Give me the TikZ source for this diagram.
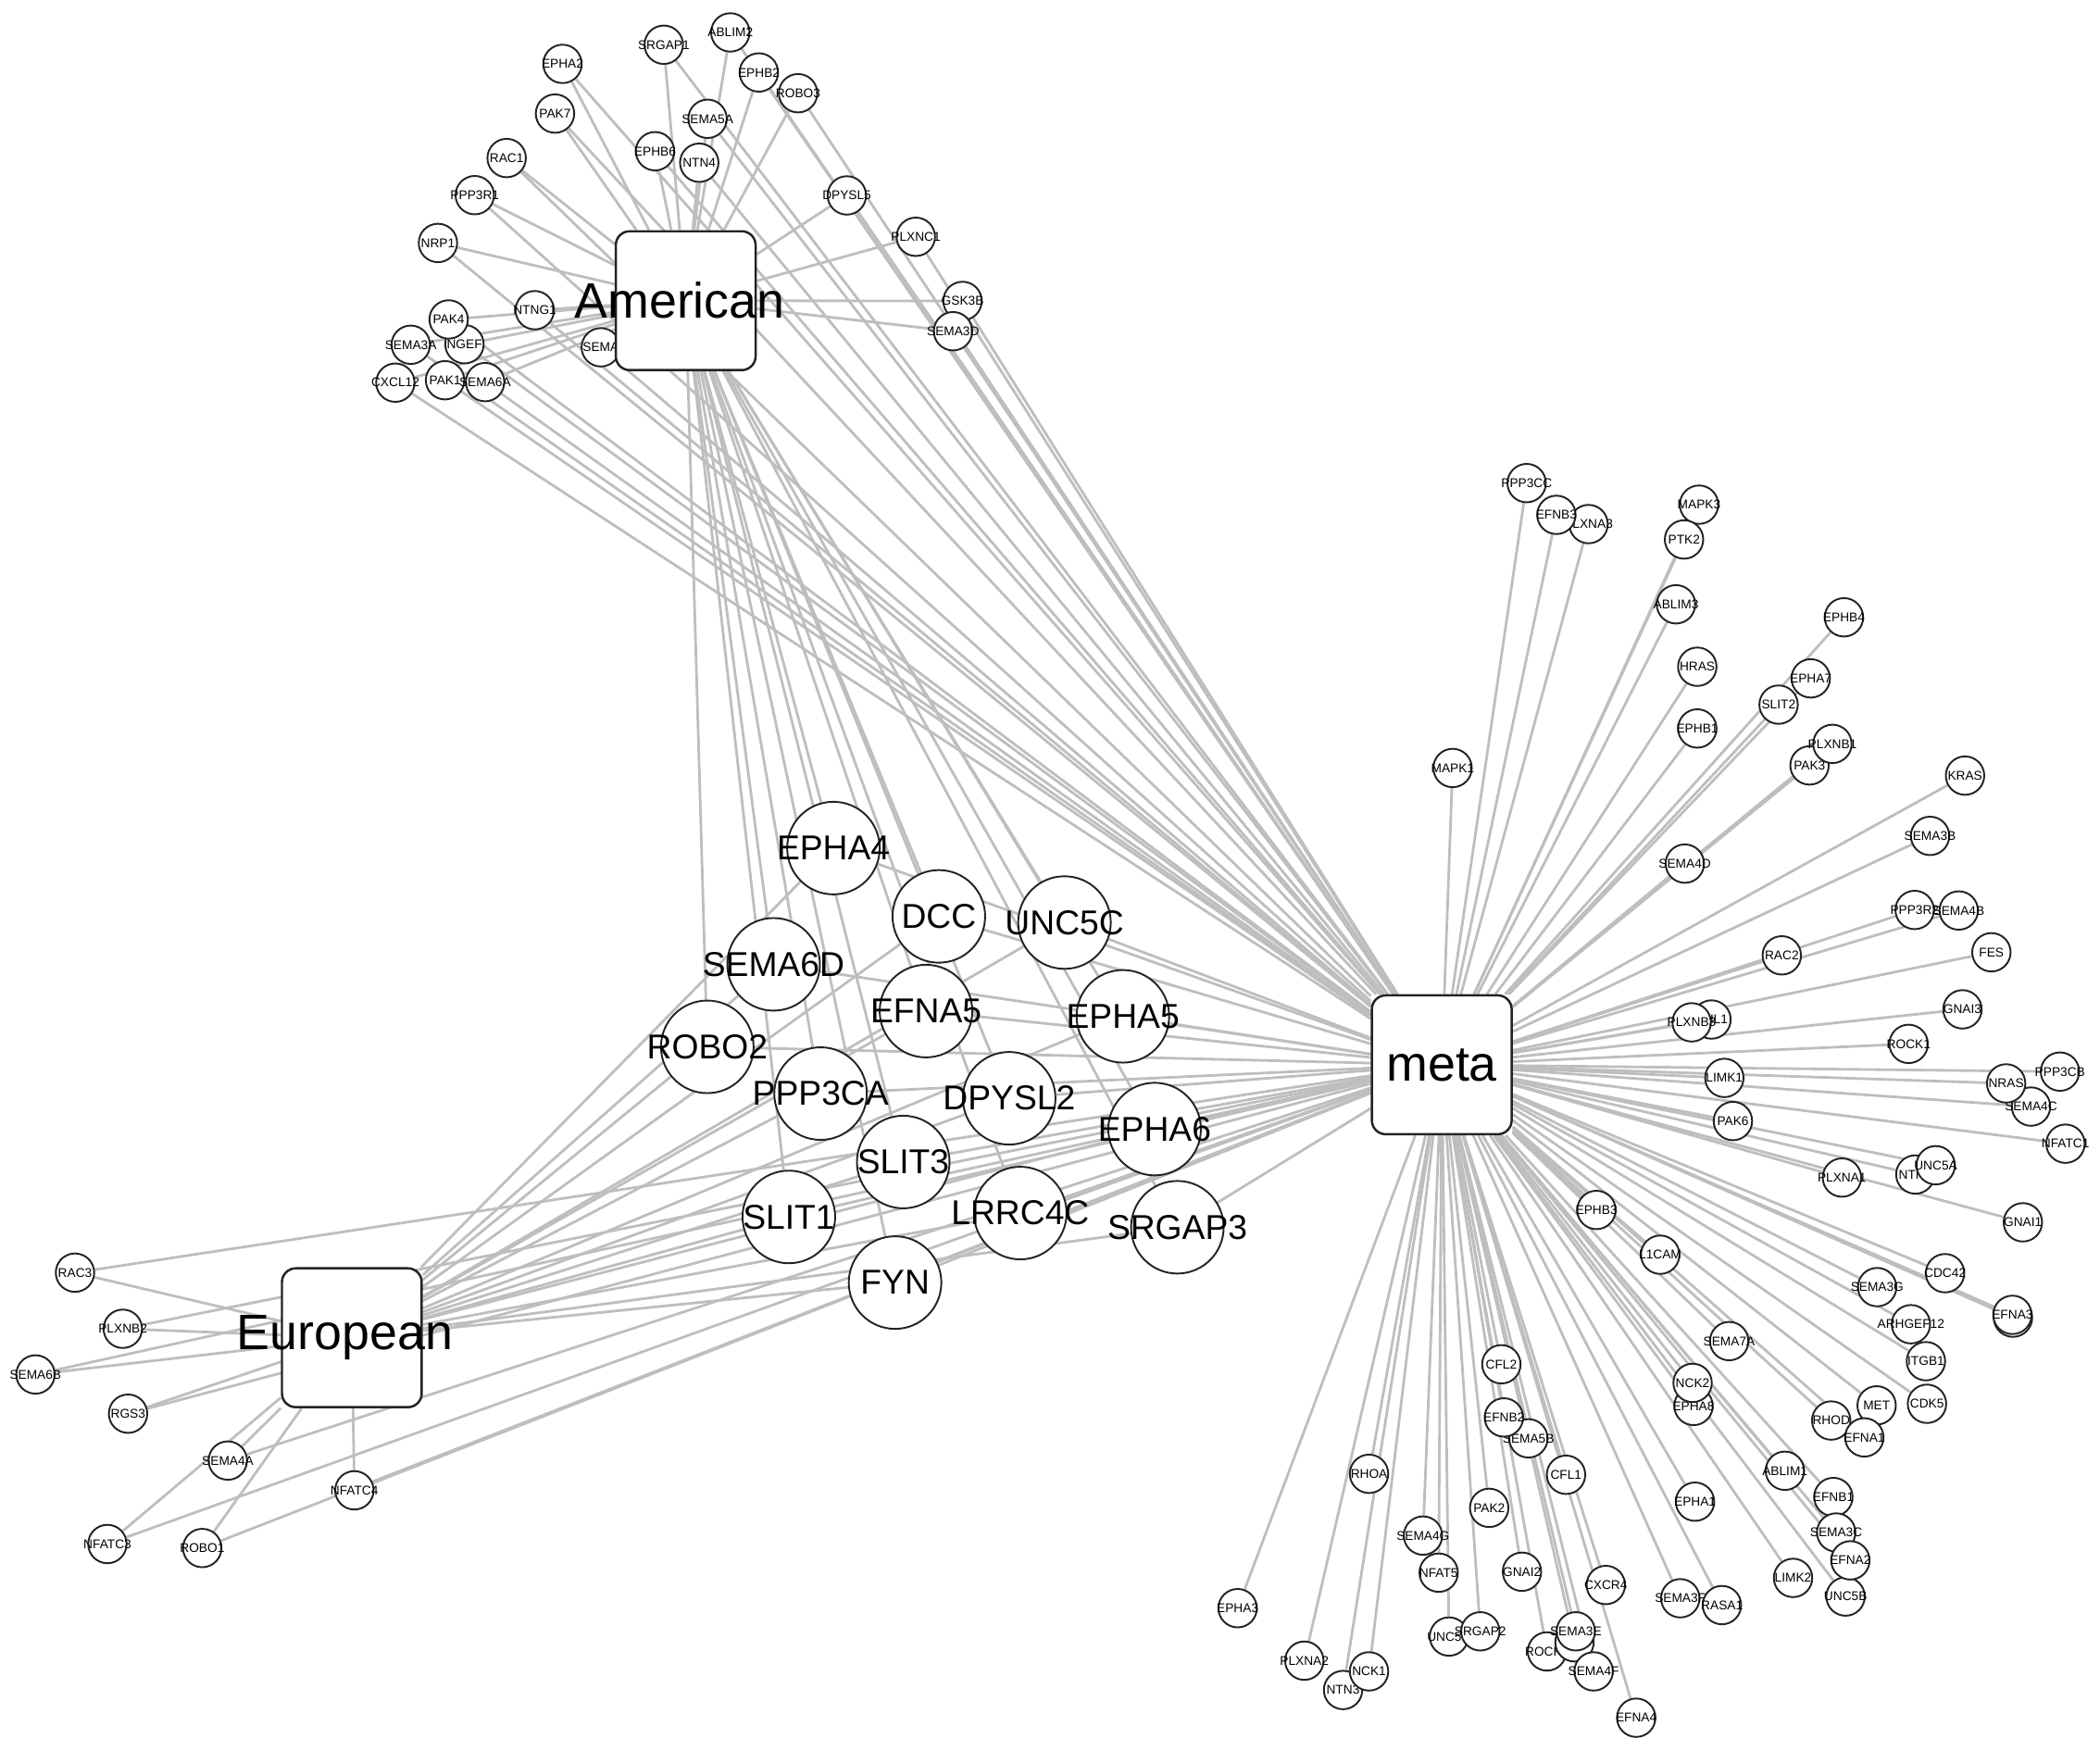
\documentclass[tikz,border=0pt]{standalone}
\usepackage{fontspec}
\setmainfont{Liberation Sans}
\definecolor{edgegray}{RGB}{190,190,190}
\definecolor{nodeline}{RGB}{35,35,35}
\newcommand{\zw}[1]{\makebox[0pt]{#1}}
\pgfdeclarelayer{edgelayer}
\pgfsetlayers{edgelayer,main}
\tikzset{
  sn/.style={circle, draw=nodeline, fill=white, line width=0.55pt, minimum size=0.415cm, inner sep=0pt, font=\fontsize{3.9}{4}\selectfont},
  bn/.style={circle, draw=nodeline, fill=white, line width=0.55pt, minimum size=1.0cm, inner sep=0pt, font=\fontsize{10.6}{11}\selectfont},
  hub/.style={rectangle, rounded corners=0.15cm, draw=nodeline, fill=white, line width=0.7pt, minimum width=1.51cm, minimum height=1.5cm, inner sep=0pt, font=\fontsize{15.3}{16}\selectfont},
  ed/.style={draw=edgegray, line width=0.8pt}
}
\begin{document}
\begin{tikzpicture}[x=0.014464cm, y=-0.014464cm]
\useasboundingbox (0,0) rectangle (1568,1307);
% ---------- American cluster ----------
\node[sn] (SRGAP1) at (495.6,33.4) {\zw{SRGAP1}};
\node[sn] (ABLIM2) at (545.3,24.2) {\zw{ABLIM2}};
\node[sn] (EPHA2) at (420,47.7) {\zw{EPHA2}};
\node[sn] (EPHB2) at (566.6,54.1) {\zw{EPHB2}};
\node[sn] (ROBO3) at (595.9,69.6) {\zw{ROBO3}};
\node[sn] (PAK7) at (414.4,84.8) {\zw{PAK7}};
\node[sn] (SEMA5A) at (528.3,88.7) {\zw{SEMA5A}};
\node[sn] (RAC1) at (378.3,118) {\zw{RAC1}};
\node[sn] (EPHB6) at (489.1,112.9) {\zw{EPHB6}};
\node[sn] (NTN4) at (522.1,121.5) {\zw{NTN4}};
\node[sn] (PPP3R1) at (354.5,145.7) {\zw{PPP3R1}};
\node[sn] (DPYSL5) at (632.3,145.9) {\zw{DPYSL5}};
\node[sn] (NRP1) at (327,181.4) {\zw{NRP1}};
\node[sn] (PLXNC1) at (683.8,176.8) {\zw{PLXNC1}};
\node[sn] (NTNG1) at (399.3,231.6) {\zw{NTNG1}};
\node[sn] (GSK3B) at (718.7,224.7) {\zw{GSK3B}};
\node[sn] (SEMA3D) at (711.6,247.3) {\zw{SEMA3D}};
\node[sn] (NGEF) at (346.8,257) {\zw{NGEF}};
\node[sn] (SEMA3A) at (306.7,257.4) {\zw{SEMA3A}};
\node[sn] (PAK4) at (335,238.5) {\zw{PAK4}};
\node[sn] (CXCL12) at (295.2,285.7) {\zw{CXCL12}};
\node[sn] (PAK1) at (332.3,283.9) {\zw{PAK1}};
\node[sn] (SEMA6A) at (362.2,285.3) {\zw{SEMA6A}};
\node[sn] (SEMAx) at (448.6,259.3) {\zw{SEMA}};
% ---------- European cluster ----------
\node[sn] (RAC3) at (56,950.2) {\zw{RAC3}};
\node[sn] (PLXNB2) at (91.7,992.1) {\zw{PLXNB2}};
\node[sn] (SEMA6B) at (26.5,1026.2) {\zw{SEMA6B}};
\node[sn] (RGS3) at (95.6,1055.5) {\zw{RGS3}};
\node[sn] (SEMA4A) at (170.1,1090.5) {\zw{SEMA4A}};
\node[sn] (NFATC4) at (264.6,1112.7) {\zw{NFATC4}};
\node[sn] (NFATC3) at (80.2,1152.8) {\zw{NFATC3}};
\node[sn] (ROBO1) at (151,1155.8) {\zw{ROBO1}};
% ---------- meta cluster ----------
\node[sn] (PPP3CC) at (1139.9,360.7) {\zw{PPP3CC}};
\node[sn] (PLXNA3) at (1186.1,391.3) {\zw{PLXNA3}};
\node[sn] (EFNB3) at (1162.1,384.4) {\zw{EFNB3}};
\node[sn] (MAPK3) at (1268.6,376.8) {\zw{MAPK3}};
\node[sn] (PTK2) at (1257.4,402.8) {\zw{PTK2}};
\node[sn] (ABLIM3) at (1251.4,451.2) {\zw{ABLIM3}};
\node[sn] (EPHB4) at (1376.8,460.9) {\zw{EPHB4}};
\node[sn] (HRAS) at (1267.3,497.8) {\zw{HRAS}};
\node[sn] (EPHA7) at (1352,506.5) {\zw{EPHA7}};
\node[sn] (SLIT2) at (1328,526.1) {\zw{SLIT2}};
\node[sn] (EPHB1) at (1267.3,543.9) {\zw{EPHB1}};
\node[sn] (PAK3) at (1351.1,571.5) {\zw{PAK3}};
\node[sn] (PLXNB1) at (1368.2,555.4) {\zw{PLXNB1}};
\node[sn] (MAPK1) at (1084.6,573.4) {\zw{MAPK1}};
\node[sn] (KRAS) at (1467.2,579.1) {\zw{KRAS}};
\node[sn] (SEMA3B) at (1441.1,624.1) {\zw{SEMA3B}};
\node[sn] (SEMA4D) at (1258,644.8) {\zw{SEMA4D}};
\node[sn] (PPP3R2) at (1429.6,679.4) {\zw{PPP3R2}};
\node[sn] (SEMA4B) at (1462.5,679.8) {\zw{SEMA4B}};
\node[sn] (RAC2) at (1330.4,713.3) {\zw{RAC2}};
\node[sn] (FES) at (1486.9,711) {\zw{FES}};
\node[sn] (GNAI3) at (1465.3,753.6) {\zw{GNAI3}};
\node[sn] (CHL1) at (1277.9,761.2) {\zw{CHL1}};
\node[sn] (PLXNB3) at (1263.1,763.3) {\zw{PLXNB3}};
\node[sn] (ROCK1) at (1425.1,779.4) {\zw{ROCK1}};
\node[sn] (LIMK1) at (1287.5,804.8) {\zw{LIMK1}};
\node[sn] (PPP3CB) at (1538.1,800.1) {\zw{PPP3CB}};
\node[sn] (SEMA4C) at (1516.5,826.2) {\zw{SEMA4C}};
\node[sn] (NRAS) at (1497.9,808.9) {\zw{NRAS}};
\node[sn] (PAK6) at (1293.9,837) {\zw{PAK6}};
\node[sn] (NFATC1) at (1542.2,853.9) {\zw{NFATC1}};
\node[sn] (PLXNA1) at (1375.3,879.2) {\zw{PLXNA1}};
\node[sn] (NTN1) at (1430.1,876.9) {\zw{NTN1}};
\node[sn] (UNC5A) at (1445.3,870) {\zw{UNC5A}};
\node[sn] (GNAI1) at (1510.4,912.6) {\zw{GNAI1}};
\node[sn] (EPHB3) at (1192,903.4) {\zw{EPHB3}};
\node[sn] (L1CAM) at (1239.6,936.8) {\zw{L1CAM}};
\node[sn] (CDC42) at (1452.3,950.6) {\zw{CDC42}};
\node[sn] (SEMA3G) at (1401.6,961) {\zw{SEMA3G}};
\node[sn] (EFNA3b) at (1503,983.8) {};
\node[sn] (EFNA3) at (1502.6,981.7) {\zw{EFNA3}};
\node[sn] (ARHGEF12) at (1426.8,988.7) {\zw{ARHGEF12}};
\node[sn] (SEMA7A) at (1291.1,1001.3) {\zw{SEMA7A}};
\node[sn] (ITGB1) at (1438,1016.3) {\zw{ITGB1}};
\node[sn] (CDK5) at (1438.8,1048.1) {\zw{CDK5}};
\node[sn] (RHOD) at (1367.3,1060.6) {\zw{RHOD}};
\node[sn] (MET) at (1401.2,1049.3) {\zw{MET}};
\node[sn] (EFNA1) at (1392,1073.2) {\zw{EFNA1}};
\node[sn] (ABLIM1) at (1332.7,1098.1) {\zw{ABLIM1}};
\node[sn] (EFNB1) at (1368.9,1117.7) {\zw{EFNB1}};
\node[sn] (SEMA3C) at (1371,1144.2) {\zw{SEMA3C}};
\node[sn] (UNC5B) at (1378,1192) {\zw{UNC5B}};
\node[sn] (EFNA2) at (1381.6,1165) {\zw{EFNA2}};
\node[sn] (LIMK2) at (1338.8,1178.1) {\zw{LIMK2}};
\node[sn] (CFL2) at (1121,1018.6) {\zw{CFL2}};
\node[sn] (EPHA8) at (1264.5,1049.7) {\zw{EPHA8}};
\node[sn] (NCK2) at (1263.8,1032.5) {\zw{NCK2}};
\node[sn] (SEMA5B) at (1141.2,1073.9) {\zw{SEMA5B}};
\node[sn] (EFNB2) at (1122.9,1058.3) {\zw{EFNB2}};
\node[sn] (RHOA) at (1022.2,1100.4) {\zw{RHOA}};
\node[sn] (CFL1) at (1169.3,1101.1) {\zw{CFL1}};
\node[sn] (EPHA1) at (1265.6,1121.2) {\zw{EPHA1}};
\node[sn] (PAK2) at (1111.9,1125.8) {\zw{PAK2}};
\node[sn] (SEMA4G) at (1062.5,1146.5) {\zw{SEMA4G}};
\node[sn] (NFAT5) at (1074.2,1174.2) {\zw{NFAT5}};
\node[sn] (GNAI2) at (1136.4,1173.5) {\zw{GNAI2}};
\node[sn] (CXCR4) at (1199,1183.4) {\zw{CXCR4}};
\node[sn] (SEMA3F) at (1254.6,1193.3) {\zw{SEMA3F}};
\node[sn] (RASA1) at (1285.7,1198.4) {\zw{RASA1}};
\node[sn] (EPHA3) at (924.1,1200.7) {\zw{EPHA3}};
\node[sn] (UNC5D) at (1081.9,1221.9) {\zw{UNC5D}};
\node[sn] (SRGAP2) at (1105.3,1218) {\zw{SRGAP2}};
\node[sn] (ROCK2) at (1155.1,1233) {\zw{ROCK2}};
\node[sn] (blankB) at (1175.6,1226.2) {};
\node[sn] (SEMA3E) at (1176.6,1218) {\zw{SEMA3E}};
\node[sn] (SEMA4F) at (1189.9,1247.9) {\zw{SEMA4F}};
\node[sn] (PLXNA2) at (973.9,1239.9) {\zw{PLXNA2}};
\node[sn] (NTN3) at (1002.8,1261.8) {\zw{NTN3}};
\node[sn] (NCK1) at (1022.2,1247.9) {\zw{NCK1}};
\node[sn] (EFNA4) at (1221.7,1282.5) {\zw{EFNA4}};
% ---------- shared (middle) nodes ----------
\node[bn] (EPHA4) at (622.3,633.2) {\zw{EPHA4}};
\node[bn] (DCC) at (701,684.2) {\zw{DCC}};
\node[bn] (UNC5C) at (794.8,688.8) {\zw{UNC5C}};
\node[bn] (SEMA6D) at (577.6,720) {\zw{SEMA6D}};
\node[bn] (EFNA5) at (691.4,754.9) {\zw{EFNA5}};
\node[bn] (EPHA5) at (838.4,758.8) {\zw{EPHA5}};
\node[bn] (ROBO2) at (528.1,781.6) {\zw{ROBO2}};
\node[bn] (PPP3CA) at (612.7,816.5) {\zw{PPP3CA}};
\node[bn] (DPYSL2) at (753.5,820) {\zw{DPYSL2}};
\node[bn] (EPHA6) at (862.1,843) {\zw{EPHA6}};
\node[bn] (SLIT3) at (674.4,867.6) {\zw{SLIT3}};
\node[bn] (SLIT1) at (589,908.6) {\zw{SLIT1}};
\node[bn] (LRRC4C) at (761.8,905.7) {\zw{LRRC4C}};
\node[bn] (SRGAP3) at (879.1,916.3) {\zw{SRGAP3}};
\node[bn] (FYN) at (668.3,957.6) {\zw{FYN}};
% ---------- hubs ----------
\node[hub] (Am) at (512,224.5) {\zw{American\hspace{0.13cm}}};
\node[hub] (Eu) at (262.7,998.8) {\zw{European\hspace{0.15cm}}};
\node[hub] (meta) at (1076.5,795) {\zw{meta}};
% ---------- connectors ----------
\begin{pgfonlayer}{edgelayer}
\foreach \n in {SRGAP1,ABLIM2,EPHA2,EPHB2,ROBO3,PAK7,SEMA5A,RAC1,EPHB6,NTN4,PPP3R1,DPYSL5,NRP1,PLXNC1,NTNG1,GSK3B,SEMA3D,NGEF,SEMA3A,PAK4,CXCL12,PAK1,SEMA6A,SEMAx}{
  \draw[ed] (\n) -- (Am);
  \draw[ed] (\n) -- (meta);
}
\foreach \n in {RAC3,PLXNB2,SEMA6B,RGS3,SEMA4A,NFATC4,NFATC3,ROBO1}{
  \draw[ed] (\n) -- (Eu);
  \draw[ed] (\n) -- (meta);
}
\foreach \n in {EPHA4,DCC,UNC5C,SEMA6D,EFNA5,EPHA5,ROBO2,PPP3CA,DPYSL2,EPHA6,SLIT3,SLIT1,LRRC4C,SRGAP3,FYN}{
  \draw[ed] (\n) -- (Am);
  \draw[ed] (\n) -- (Eu);
  \draw[ed] (\n) -- (meta);
}
\foreach \n in {PPP3CC,PLXNA3,EFNB3,MAPK3,PTK2,ABLIM3,EPHB4,HRAS,EPHA7,SLIT2,EPHB1,PAK3,PLXNB1,MAPK1,KRAS,SEMA3B,SEMA4D,PPP3R2,SEMA4B,RAC2,FES,GNAI3,CHL1,PLXNB3,ROCK1,LIMK1,PPP3CB,SEMA4C,NRAS,PAK6,NFATC1,PLXNA1,NTN1,UNC5A,GNAI1,EPHB3,L1CAM,CDC42,SEMA3G,EFNA3b,EFNA3,ARHGEF12,SEMA7A,ITGB1,CDK5,RHOD,MET,EFNA1,ABLIM1,EFNB1,SEMA3C,UNC5B,EFNA2,LIMK2,CFL2,EPHA8,NCK2,SEMA5B,EFNB2,RHOA,CFL1,EPHA1,PAK2,SEMA4G,NFAT5,GNAI2,CXCR4,SEMA3F,RASA1,EPHA3,UNC5D,SRGAP2,ROCK2,blankB,SEMA3E,SEMA4F,PLXNA2,NTN3,NCK1,EFNA4}{
  \draw[ed] (\n) -- (meta);
}
\end{pgfonlayer}
\end{tikzpicture}
\end{document}
